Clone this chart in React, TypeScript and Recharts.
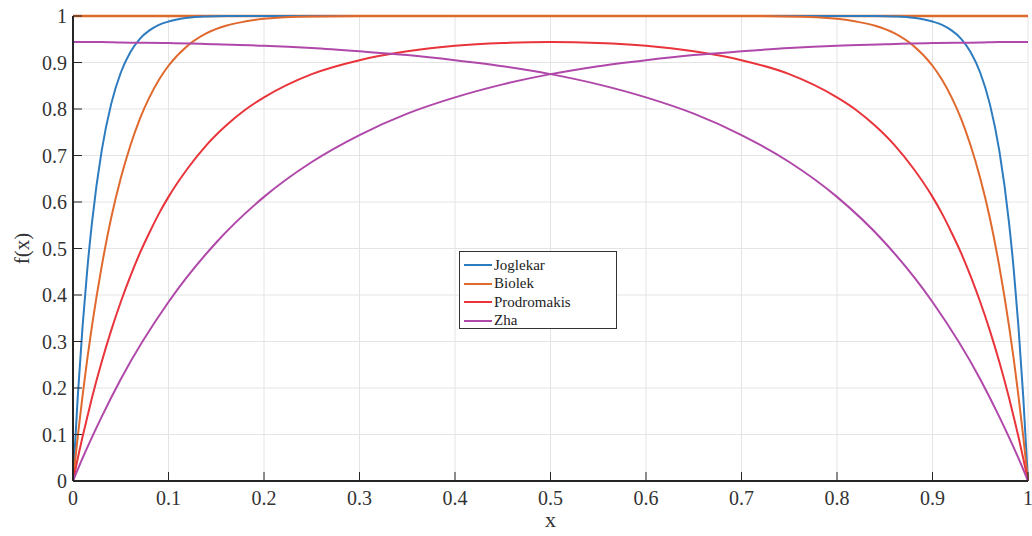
import React from 'react';
import {
  LineChart,
  Line,
  XAxis,
  YAxis,
  CartesianGrid,
  Legend,
  ReferenceLine
} from 'recharts';

// dense x grid for the three steep window functions
const xFine = [
  0, 0.005, 0.01, 0.015, 0.02, 0.03, 0.04, 0.05, 0.06, 0.07, 0.08, 0.09, 0.1, 0.12, 0.14, 0.16, 0.18, 0.2,
  0.25, 0.3, 0.35, 0.4, 0.45, 0.5, 0.55, 0.6, 0.65, 0.7, 0.75, 0.8, 0.82, 0.84, 0.86, 0.88, 0.9, 0.91,
  0.92, 0.93, 0.94, 0.95, 0.96, 0.97, 0.98, 0.985, 0.99, 0.995, 1
];
const joglekar = [
  0, 0.182, 0.332, 0.456, 0.558, 0.71, 0.811, 0.878, 0.922, 0.951, 0.969, 0.981, 0.988, 0.996, 0.999, 1, 1, 1,
  1, 1, 1, 1, 1, 1, 1, 1, 1, 1, 1, 1, 1, 1, 0.999, 0.996, 0.988, 0.981,
  0.969, 0.951, 0.922, 0.878, 0.811, 0.71, 0.558, 0.456, 0.332, 0.182, 0
];
const biolek = [
  0, 0.096, 0.183, 0.263, 0.335, 0.461, 0.566, 0.651, 0.721, 0.779, 0.825, 0.863, 0.893, 0.936, 0.963, 0.979, 0.988, 0.994,
  0.999, 1, 1, 1, 1, 1, 1, 1, 1, 1, 0.999, 0.994, 0.988, 0.979, 0.963, 0.936, 0.893, 0.863,
  0.825, 0.779, 0.721, 0.651, 0.566, 0.461, 0.335, 0.263, 0.183, 0.096, 0
];
const prodromakis = [
  0, 0.049, 0.095, 0.138, 0.18, 0.256, 0.324, 0.385, 0.44, 0.49, 0.534, 0.575, 0.611, 0.672, 0.723, 0.764, 0.798, 0.825,
  0.875, 0.905, 0.924, 0.936, 0.942, 0.944, 0.942, 0.936, 0.924, 0.905, 0.875, 0.825, 0.798, 0.764, 0.723, 0.672, 0.611, 0.575,
  0.534, 0.49, 0.44, 0.385, 0.324, 0.256, 0.18, 0.138, 0.095, 0.049, 0
];

// Zha has two branches
const xZha = [
  0, 0.01, 0.03, 0.05, 0.1, 0.15, 0.2, 0.25, 0.3, 0.35, 0.4, 0.45, 0.5, 0.55, 0.6, 0.65, 0.7, 0.75, 0.8, 0.85,
  0.9, 0.95, 0.97, 0.99, 1
];
const zhaUp = [
  0.944, 0.944, 0.944, 0.943, 0.942, 0.939, 0.936, 0.931, 0.924, 0.916, 0.905, 0.892, 0.875, 0.853, 0.825, 0.79, 0.744,
  0.686, 0.611, 0.513, 0.385, 0.219, 0.138, 0.049, 0
];
const zhaDown = [
  0, 0.049, 0.138, 0.219, 0.385, 0.513, 0.611, 0.686, 0.744, 0.79, 0.825, 0.853, 0.875, 0.892, 0.905, 0.916, 0.924,
  0.931, 0.936, 0.939, 0.942, 0.943, 0.944, 0.944, 0.944
];

const upperLevel = 1;
const xTicks = [0, 0.1, 0.2, 0.3, 0.4, 0.5, 0.6, 0.7, 0.8, 0.9, 1];
const yTicks = [0, 0.1, 0.2, 0.3, 0.4, 0.5, 0.6, 0.7, 0.8, 0.9, 1];

const COLORS = {
  joglekar: '#2d7cc0',
  biolek: '#e0692e',
  prodromakis: '#e8343a',
  zha: '#b048aa'
};

const legendItems = [
  { name: 'Joglekar', color: COLORS.joglekar },
  { name: 'Biolek', color: COLORS.biolek },
  { name: 'Prodromakis', color: COLORS.prodromakis },
  { name: 'Zha', color: COLORS.zha }
];

const fineRows = xFine.map((x, i) => ({
  x,
  joglekar: joglekar[i],
  biolek: biolek[i],
  prodromakis: prodromakis[i]
}));
const zhaRows = xZha.map((x, i) => ({ x, up: zhaUp[i], down: zhaDown[i] }));

const FONT = '"Liberation Serif", "DejaVu Serif", serif';
const AXIS = '#262626';
const TICK_LEN = 9;

const BottomTick = (props: any) => {
  const { x, y, payload } = props;
  return (
    <g>
      <line x1={x} y1={y} x2={x} y2={y - TICK_LEN} stroke={AXIS} strokeWidth={1} />
      <text x={x} y={y + 24} textAnchor="middle" fill="#333" fontSize={20} fontFamily={FONT}>
        {String(payload.value)}
      </text>
    </g>
  );
};

const LeftTick = (props: any) => {
  const { x, y, payload } = props;
  return (
    <g>
      <line x1={x} y1={y} x2={x + TICK_LEN} y2={y} stroke={AXIS} strokeWidth={1} />
      <text x={x - 6} y={y + 7} textAnchor="end" fill="#333" fontSize={20} fontFamily={FONT}>
        {String(payload.value)}
      </text>
    </g>
  );
};

const TopTick = (props: any) => {
  const { x, y } = props;
  return <line x1={x} y1={y} x2={x} y2={y + TICK_LEN} stroke={AXIS} strokeWidth={1} />;
};

const RightTick = (props: any) => {
  const { x, y } = props;
  return <line x1={x} y1={y} x2={x - TICK_LEN} y2={y} stroke={AXIS} strokeWidth={1} />;
};

const LegendBox = () => (
  <div
    style={{
      border: '1px solid #333',
      background: '#fff',
      width: 158,
      height: 78,
      padding: '4px 0 0 4px',
      boxSizing: 'border-box',
      fontFamily: FONT,
      fontSize: 15,
      color: '#222'
    }}
  >
    {legendItems.map((it) => (
      <div key={it.name} style={{ display: 'flex', alignItems: 'center', height: 18.5 }}>
        <span style={{ display: 'inline-block', width: 28, height: 2, background: it.color, marginRight: 2 }} />
        <span>{it.name}</span>
      </div>
    ))}
  </div>
);

const YLabel = (props: any) => {
  const { viewBox } = props;
  const cx = viewBox.x - 11;
  const cy = viewBox.y + viewBox.height / 2;
  return (
    <text
      x={cx}
      y={cy}
      transform={`rotate(-90 ${cx} ${cy})`}
      textAnchor="middle"
      dominantBaseline="central"
      fill="#333"
      fontSize={21}
      fontFamily={FONT}
    >
      f(x)
    </text>
  );
};

export default function App() {
  return (
    <div style={{ position: 'absolute', left: 0, top: 0, width: 1032, height: 536, background: '#fff' }}>
      <LineChart width={1032} height={536} data={fineRows} margin={{ top: 16, right: 4, bottom: 25, left: 33 }}>
        <CartesianGrid stroke="#e4e4e4" strokeWidth={1} verticalValues={xTicks} horizontalValues={yTicks} />
        <XAxis
          dataKey="x"
          type="number"
          domain={[0, 1]}
          ticks={xTicks}
          height={30}
          tickSize={0}
          tickMargin={0}
          tickLine={false}
          tick={<BottomTick />}
          axisLine={{ stroke: AXIS, strokeWidth: 2 }}
          interval={0}
          label={{ value: 'x', position: 'bottom', offset: 0, fill: '#333', fontSize: 22, fontFamily: FONT }}
        />
        <XAxis
          xAxisId="top"
          dataKey="x"
          type="number"
          orientation="top"
          domain={[0, 1]}
          ticks={xTicks}
          height={0}
          tickSize={0}
          tickMargin={0}
          tickLine={false}
          tick={<TopTick />}
          axisLine={{ stroke: AXIS, strokeWidth: 2 }}
          interval={0}
        />
        <YAxis
          type="number"
          domain={[0, 1]}
          ticks={yTicks}
          width={40}
          tickSize={0}
          tickMargin={0}
          tickLine={false}
          tick={<LeftTick />}
          axisLine={{ stroke: AXIS, strokeWidth: 2 }}
          interval={0}
          label={<YLabel />}
        />
        <YAxis
          yAxisId="right"
          type="number"
          orientation="right"
          domain={[0, 1]}
          ticks={yTicks}
          width={0}
          tickSize={0}
          tickMargin={0}
          tickLine={false}
          tick={<RightTick />}
          axisLine={{ stroke: AXIS, strokeWidth: 2 }}
          interval={0}
        />
        <Legend
          layout="vertical"
          align="center"
          verticalAlign="middle"
          content={<LegendBox />}
          wrapperStyle={{ position: 'absolute', left: 459, top: 251, width: 160 }}
        />
        <ReferenceLine y={upperLevel} stroke={COLORS.biolek} strokeWidth={2.5} />
        <Line
          type="monotone"
          dataKey="joglekar"
          name="Joglekar"
          stroke={COLORS.joglekar}
          strokeWidth={2}
          dot={false}
          isAnimationActive={false}
        />
        <Line
          type="monotone"
          dataKey="biolek"
          name="Biolek"
          stroke={COLORS.biolek}
          strokeWidth={2}
          dot={false}
          isAnimationActive={false}
        />
        <Line
          type="monotone"
          dataKey="prodromakis"
          name="Prodromakis"
          stroke={COLORS.prodromakis}
          strokeWidth={2}
          dot={false}
          isAnimationActive={false}
        />
        <Line
          type="monotone"
          data={zhaRows}
          dataKey="up"
          name="Zha"
          stroke={COLORS.zha}
          strokeWidth={2}
          dot={false}
          isAnimationActive={false}
        />
        <Line
          type="monotone"
          data={zhaRows}
          dataKey="down"
          name="Zha "
          stroke={COLORS.zha}
          strokeWidth={2}
          dot={false}
          isAnimationActive={false}
        />
      </LineChart>
    </div>
  );
}
